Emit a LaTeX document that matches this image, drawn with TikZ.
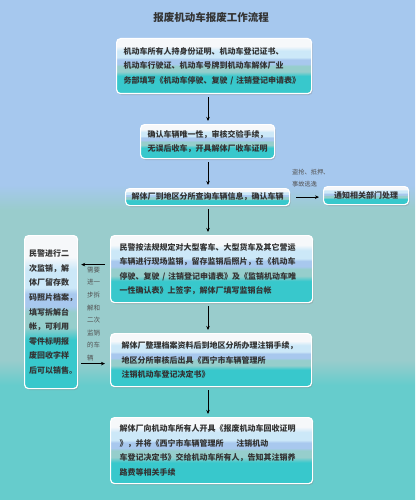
\documentclass[tikz,border=0pt]{standalone}
\usepackage{fontspec}
\setmainfont{Noto Sans CJK SC}
\usetikzlibrary{arrows.meta, shadows, calc, positioning}

\definecolor{bgTop}{RGB}{166,200,238}
\definecolor{bgMid}{RGB}{153,204,204}
\definecolor{bgLow}{RGB}{102,204,204}
\definecolor{bandWhite}{RGB}{246,248,250}
\definecolor{bandSky}{RGB}{204,232,248}
\definecolor{bandBlue}{RGB}{168,200,238}
\definecolor{bandGray}{RGB}{150,206,204}
\definecolor{bandTeal}{RGB}{56,200,204}
\definecolor{inkGray}{RGB}{51,51,51}

\pgfdeclareverticalshading{bgBands}{100bp}{color(0bp)=(bgLow); color(36.5bp)=(bgLow);
  color(39bp)=(bgMid); color(54bp)=(bgMid); color(56.5bp)=(bgTop); color(100bp)=(bgTop)}
\pgfdeclareverticalshading{boxBands}{100bp}{color(0bp)=(bandTeal); color(41bp)=(bandTeal);
  color(45bp)=(bandGray); color(50bp)=(bandGray); color(52bp)=(bandBlue); color(56bp)=(bandBlue);
  color(58bp)=(bandSky); color(64bp)=(bandSky); color(68bp)=(bandWhite); color(100bp)=(bandWhite)}

\begin{document}
\begin{tikzpicture}[x=1pt, y=-1pt,
    StepBox/.style={draw=white, line width=1.2pt, rounded corners=4pt, shading=boxBands,
                drop shadow={opacity=.35, shadow xshift=1pt, shadow yshift=-1.5pt},
                anchor=north west, align=left, inner ysep=0pt,
                font=\fontsize{8}{14.5}\selectfont\bfseries, text=inkGray},
    Link/.style={-{Stealth[length=4pt, width=3.5pt]}, line width=.7pt,
                shorten <=3pt, shorten >=3pt},
    SideNote/.style={text=inkGray!85, align=left, inner sep=0pt},
  ]

\useasboundingbox (0,0) rectangle (415,500);
\shade[shading=bgBands] (0,0) rectangle (415,500);

\node[font=\fontsize{10.5}{12}\selectfont\bfseries, text=inkGray] (Title) at (211,17)
  {报废机动车报废工作流程};

\node[StepBox, text width=181pt, inner xsep=7pt, minimum height=55pt] (Apply) at (116,38)
  {机动车所有人持身份证明、机动车登记证书、\\机动车行驶证、机动车号牌到机动车解体厂业\\务部填写《机动车停驶、复驶 / 注销登记申请表》};
\node[StepBox, text width=120pt, inner xsep=7pt, minimum height=34pt] (Check) at (140,124)
  {确认车辆唯一性，审核交验手续，\\无误后收车，开具解体厂收车证明};
\node[StepBox, align=center, text width=156pt, inner xsep=4pt, minimum height=17pt] (Query) at (125,188)
  {解体厂到地区分所查询车辆信息，确认车辆};
\node[StepBox, align=center, text width=77pt, inner xsep=4pt, minimum height=18pt] (Notify) at (323,186)
  {通知相关部门处理};
\node[StepBox, text width=184pt, inner xsep=9pt, minimum height=67pt] (Record) at (110,235)
  {民警按法规规定对大型客车、大型货车及其它营运\\车辆进行现场监销，留存监销后照片，在《机动车\\停驶、复驶 / 注销登记申请表》及《监销机动车唯\\一性确认表》上签字，解体厂填写监销台帐};
\node[StepBox, font=\fontsize{8}{14.6}\selectfont\bfseries, text width=44pt, inner xsep=4.5pt, minimum height=153pt] (Dismantle) at (24,235)
  {民警进行二\\次监销，解\\体厂留存数\\码照片档案，\\填写拆解台\\帐，可利用\\零件标明报\\废回收字样\\后可以销售。};
\node[StepBox, text width=179pt, inner xsep=11pt, minimum height=53pt] (Cancel) at (110,333)
  {解体厂整理档案资料后到地区分所办理注销手续，\\地区分所审核后出具《西宁市车辆管理所\\注销机动车登记决定书》};
\node[StepBox, text width=184pt, inner xsep=9pt, minimum height=66pt] (Certify) at (110,417)
  {解体厂向机动车所有人开具《报废机动车回收证明\\》，并将《西宁市车辆管理所\hspace{1.6em}注销机动\\车登记决定书》交给机动车所有人，告知其注销养\\路费等相关手续};

% side notes
\node[SideNote, font=\fontsize{6.2}{12}\selectfont, anchor=north west] (Reason) at (292,169)
  {盗抢、抵押、\\事故逃逸};
\node[SideNote, font=\fontsize{6.5}{12.6}\selectfont, text width=13pt] (Need) at (93.5,314)
  {需要\\进一\\步拆\\解和\\二次\\监销\\的车\\辆};

% main flow
\coordinate (Spine) at (208,0);
\draw[Link] (Apply.south -| Spine) -- (Check.north -| Spine);
\draw[Link] (Check.south -| Spine) -- (Query.north -| Spine);
\draw[Link] (Query.south -| Spine) -- (Record.north -| Spine);
\draw[Link] (Record.south -| Spine) -- (Cancel.north -| Spine);
\draw[Link] (Cancel.south -| Spine) -- (Certify.north -| Spine);
\draw[Link, shorten <=6pt, shorten >=4pt] (Query.east) -- (Notify.west |- Query.east);

% side loop
\coordinate (SendBack) at ($(Record.west)+(-5,-4.5)$);
\coordinate (Return) at ($(Cancel.west)+(-5,3.5)$);
\draw[Link, shorten <=0pt] (SendBack) -- (Dismantle.east |- SendBack);
\draw[Link, shorten >=0pt] (Dismantle.east |- Return) -- (Return);
\end{tikzpicture}
\end{document}
